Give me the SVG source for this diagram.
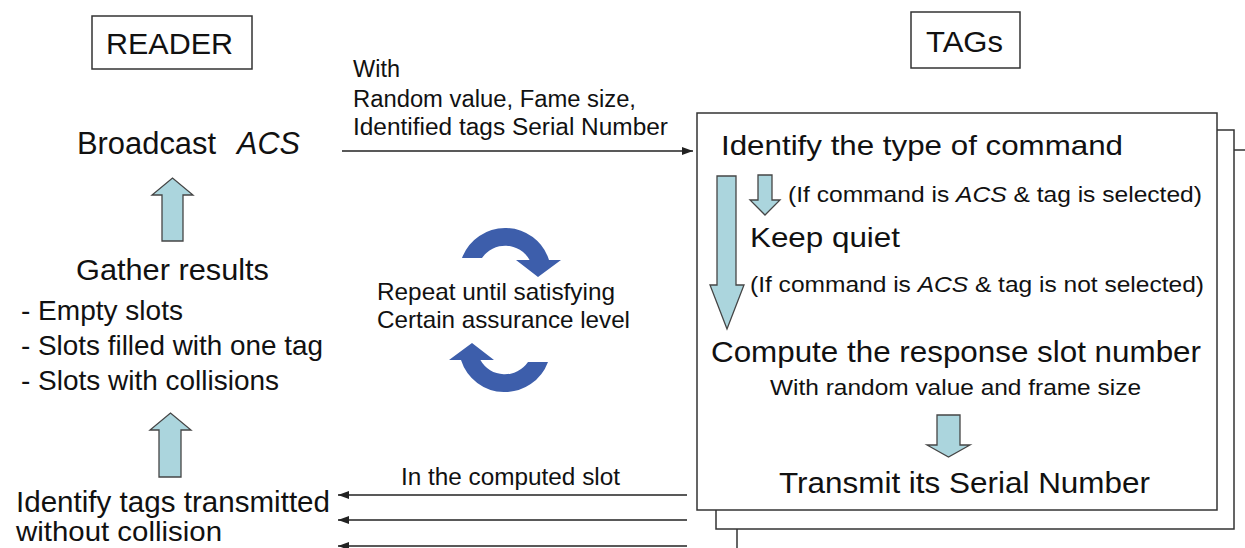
<svg xmlns="http://www.w3.org/2000/svg" width="1245" height="548" viewBox="0 0 1245 548">
<style>
  .t { font-family: "Liberation Sans", Arial, sans-serif; fill: #111111; }
  .box { fill: #ffffff; stroke: #333333; stroke-width: 1.5; }
  .blk { fill: #abd5dd; stroke: #454545; stroke-width: 1.3; stroke-linejoin: miter; }
  .cur { fill: #3d5eab; }
  .con { stroke: #222222; stroke-width: 1.5; fill: none; }
</style>
<defs>
  <marker id="ah" markerUnits="userSpaceOnUse" markerWidth="12" markerHeight="10" refX="11" refY="5" orient="auto">
    <path d="M0,1 L11,5 L0,9 Z" fill="#222222"/>
  </marker>
  <path id="curve" d="M462,258 A46,46 0 0 1 549,260 L561,260 L538,277 L516,260 L529.6,260 A28,28 0 0 0 482,258 Z"/>
</defs>
<rect width="1245" height="548" fill="#ffffff"/>

<g id="reader-title">
  <rect class="box" x="92" y="16" width="160" height="53"/>
  <text class="t" x="106" y="54" font-size="30" textLength="127" lengthAdjust="spacingAndGlyphs">READER</text>
</g>
<g id="tags-title">
  <rect class="box" x="911" y="12" width="109" height="56"/>
  <text class="t" x="926" y="52" font-size="30" textLength="77" lengthAdjust="spacingAndGlyphs">TAGs</text>
</g>

<g id="broadcast">
  <text class="t" x="77" y="154" font-size="31" textLength="139" lengthAdjust="spacingAndGlyphs">Broadcast</text>
  <text class="t" x="237" y="154" font-size="31" font-style="italic" textLength="63" lengthAdjust="spacingAndGlyphs">ACS</text>
</g>
<g id="arrow-up-1">
  <path class="blk" d="M162,241 L162,195 L152,195 L172.5,178 L193,195 L183,195 L183,241 Z"/>
</g>
<g id="gather">
  <text class="t" x="76" y="280" font-size="30" textLength="193" lengthAdjust="spacingAndGlyphs">Gather results</text>
  <text class="t" x="21" y="320" font-size="28" textLength="162" lengthAdjust="spacingAndGlyphs">- Empty slots</text>
  <text class="t" x="21" y="355" font-size="28" textLength="302" lengthAdjust="spacingAndGlyphs">- Slots filled with one tag</text>
  <text class="t" x="21" y="390" font-size="28" textLength="258" lengthAdjust="spacingAndGlyphs">- Slots with collisions</text>
</g>
<g id="arrow-up-2">
  <path class="blk" d="M159,477 L159,430 L150,430 L170.5,413 L191,430 L181,430 L181,477 Z"/>
</g>
<g id="identify-reader">
  <text class="t" x="16" y="512" font-size="29" textLength="314" lengthAdjust="spacingAndGlyphs">Identify tags transmitted</text>
  <text class="t" x="16" y="541" font-size="28" textLength="206" lengthAdjust="spacingAndGlyphs">without collision</text>
</g>

<g id="repeat">
  <use href="#curve" class="cur"/>
  <use href="#curve" class="cur" transform="rotate(180 505 310)"/>
  <text class="t" x="377" y="300" font-size="24" textLength="238" lengthAdjust="spacingAndGlyphs">Repeat until satisfying</text>
  <text class="t" x="377" y="328" font-size="24" textLength="253" lengthAdjust="spacingAndGlyphs">Certain assurance level</text>
</g>

<g id="tags-process">
  <rect class="box" x="737" y="150" width="530" height="420"/>
  <rect class="box" x="716" y="130" width="518" height="399"/>
  <rect class="box" x="697" y="113" width="520" height="397"/>
  <text class="t" x="721" y="155" font-size="28" textLength="402" lengthAdjust="spacingAndGlyphs">Identify the type of command</text>
  <path class="blk" d="M717,176 L736,176 L736,285 L744,285 L727,329 L710,285 L717,285 Z"/>
  <path class="blk" d="M758,175 L772,175 L772,200 L780,200 L765,215 L750,200 L758,200 Z"/>
  <text class="t" x="788" y="202" font-size="22" textLength="414" lengthAdjust="spacingAndGlyphs">(If command is <tspan font-style="italic">ACS</tspan> &amp; tag is selected)</text>
  <text class="t" x="750" y="247" font-size="28" textLength="150" lengthAdjust="spacingAndGlyphs">Keep quiet</text>
  <text class="t" x="750" y="292" font-size="22" textLength="454" lengthAdjust="spacingAndGlyphs">(If command is <tspan font-style="italic">ACS</tspan> &amp; tag is not selected)</text>
  <text class="t" x="711" y="362" font-size="29" textLength="490" lengthAdjust="spacingAndGlyphs">Compute the response slot number</text>
  <text class="t" x="770" y="395" font-size="22" textLength="371" lengthAdjust="spacingAndGlyphs">With random value and frame size</text>
  <path class="blk" d="M937,415 L960,415 L960,445 L970,445 L948.5,457 L927,445 L937,445 Z"/>
  <text class="t" x="779" y="493" font-size="29" textLength="371" lengthAdjust="spacingAndGlyphs">Transmit its Serial Number</text>
</g>

<g id="connectors">
  <line class="con" x1="342" y1="151" x2="693" y2="151" marker-end="url(#ah)"/>
  <text class="t" x="353" y="77" font-size="23" textLength="47" lengthAdjust="spacingAndGlyphs">With</text>
  <text class="t" x="353" y="107" font-size="23" textLength="283" lengthAdjust="spacingAndGlyphs">Random value, Fame size,</text>
  <text class="t" x="353" y="135" font-size="23" textLength="315" lengthAdjust="spacingAndGlyphs">Identified tags Serial Number</text>
  <line class="con" x1="687" y1="495" x2="338" y2="495" marker-end="url(#ah)"/>
  <line class="con" x1="687" y1="520" x2="338" y2="520" marker-end="url(#ah)"/>
  <line class="con" x1="687" y1="546" x2="338" y2="546" marker-end="url(#ah)"/>
  <text class="t" x="401" y="485" font-size="23" textLength="219" lengthAdjust="spacingAndGlyphs">In the computed slot</text>
</g>
</svg>
